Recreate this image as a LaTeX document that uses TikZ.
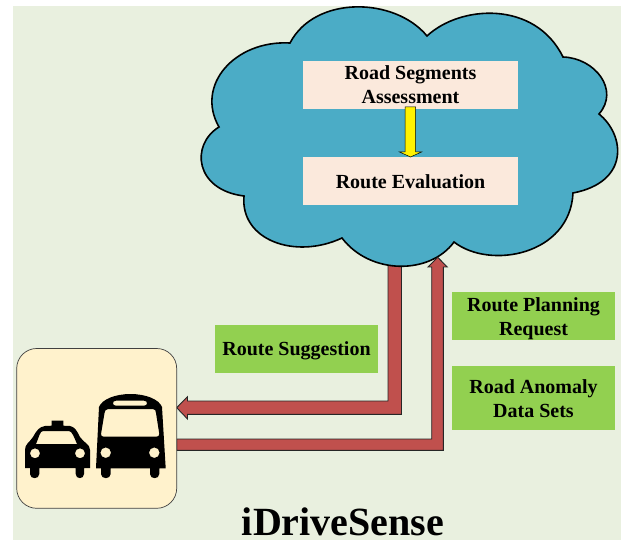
\documentclass[tikz,border=0pt]{standalone}
\usepackage{fontspec}
\setmainfont{Liberation Serif}
\definecolor{bgc}{HTML}{E9F0DF}
\definecolor{cloudc}{HTML}{4BACC6}
\definecolor{boxc}{HTML}{FBE9DC}
\definecolor{lblc}{HTML}{92D050}
\definecolor{redc}{HTML}{C0504D}
\definecolor{vehc}{HTML}{FFF2CC}
\newcommand\lowr[2]{\raisebox{-#1}[\height][\depth]{#2}}
\tikzset{
  lbl/.style={fill=lblc,inner sep=0pt,align=center,font=\fontsize{20}{24}\selectfont\bfseries,text=black},
  cbox/.style={fill=boxc,inner sep=0pt,align=center,font=\fontsize{20}{24}\selectfont\bfseries,text=black},
  redarrow/.style={fill=redc,draw=black!85,line width=.9pt,line join=miter},
}
\begin{document}
\begin{tikzpicture}[x=1pt,y=-1pt]
\useasboundingbox (0,0) rectangle (627,540);
\fill[white] (0,0) rectangle (627,540);
\fill[bgc] (13,6) rectangle (621,540);
% outgoing arrow under the cloud
\draw[redarrow] (388,262) -- (388,401) -- (187.5,401) -- (187.5,396.7) -- (176.7,407.7) -- (187.5,419) -- (187.5,414.3) -- (401.5,414.3) -- (401.5,262) -- cycle;
% cloud
\draw[fill=cloudc,draw=black,line width=1.6pt,line join=miter]
 (219,127) .. controls (195,85) and (235,40) .. (290,43)
 .. controls (315,-5) and (395,-3) .. (427,36)
 .. controls (460,5) and (535,0) .. (563,57)
 .. controls (595,58) and (620,90) .. (599,114)
 .. controls (625,135) and (630,182) .. (573,193)
 .. controls (570,255) and (490,270) .. (454,242)
 .. controls (430,275) and (370,275) .. (342,238)
 .. controls (295,260) and (240,240) .. (244,196)
 .. controls (195,190) and (190,145) .. (219,127) -- cycle;
\node[cbox,minimum width=215pt,minimum height=48pt] (rsa) at (410.5,85) {Road Segments\\Assessment};
\node[cbox,minimum width=215pt,minimum height=48pt] (re) at (410.5,181) {\lowr{1pt}{Route Evaluation}};
\draw[fill=yellow,draw=black,line width=.5pt] (405,107) -- (405,152) -- (399.5,152) -- (410.5,157) -- (421.5,152) -- (415.7,152) -- (415.7,107) -- cycle;
% incoming arrow
\draw[redarrow] (176.7,439) -- (431.7,439) -- (431.7,267) -- (428,267) -- (437.7,257.3) -- (447.3,267) -- (443.3,267) -- (443.3,450.3) -- (176.7,450.3) -- cycle;
% labels
\node[lbl,minimum width=163pt,minimum height=48pt] (rs) at (296.5,349) {\lowr{2pt}{Route Suggestion}};
\node[lbl,minimum width=163pt,minimum height=48pt] (rp) at (533.5,316) {\lowr{3pt}{Route Planning}\\\lowr{3pt}{Request}};
\node[lbl,minimum width=163pt,minimum height=64pt] (ra) at (533.5,398) {\lowr{1pt}{Road Anomaly}\\\lowr{1pt}{Data Sets}};
% vehicles
\draw[fill=vehc,draw=black!75,line width=.7pt,rounded corners=20pt] (16.7,348.5) rectangle (176.7,508.3);
% car
\fill[black,even odd rule]
 (51.7,420.7) -- (63.3,420.7) -- (63.3,425.7) -- (70,426) .. controls (75,427) and (77,431) .. (80,437)
 .. controls (84,443) and (90,444) .. (90,450) -- (90,468) -- (84,468) -- (84,474) .. controls (84,479.5) and (75.7,479.5) .. (75.7,474) -- (75.7,468)
 -- (39.3,468) -- (39.3,474) .. controls (39.3,479.5) and (30,479.5) .. (30,474) -- (30,468) -- (25,468) -- (25,450)
 .. controls (25,444) and (29,443) .. (33,437) .. controls (37,430) and (39,427) .. (45,426) -- (51.7,425.7) -- cycle
 (43,431) -- (69,431) .. controls (72,431) and (74,437) .. (77,444) -- (36,444) .. controls (39,437) and (40,431) .. (43,431) -- cycle
 (35,453.3) circle (5) (80,453.3) circle (5);
% bus
\fill[black,even odd rule]
 (130.5,394) .. controls (145,394) and (159,399) .. (162,407) -- (165.7,468.3) -- (159.3,468.3) -- (159.3,474) .. controls (159.3,479.5) and (150,479.5) .. (150,474) -- (150,468.3)
 -- (110.7,468.3) -- (110.7,474) .. controls (110.7,479.5) and (101,479.5) .. (101,474) -- (101,468.3) -- (96,468.3) -- (99,407)
 .. controls (102,399) and (116,394) .. (130.5,394) -- cycle
 (116,400.7) -- (144,400.7) .. controls (148,400.7) and (148,405.7) .. (144,405.7) -- (116,405.7) .. controls (112,405.7) and (112,400.7) .. (116,400.7) -- cycle
 (108,409) -- (153,409) .. controls (155,409) and (156,411) .. (156,413) -- (159.3,434) .. controls (159.3,436) and (158,436.7) .. (156,436.7)
 -- (104,436.7) .. controls (102,436.7) and (101,436) .. (101,434) -- (104.5,413) .. controls (104.5,411) and (106,409) .. (108,409) -- cycle
 (105.7,452.7) circle (5.3) (154.3,452.7) circle (5.3);
\node[inner sep=0pt,anchor=base,font=\fontsize{40}{44}\selectfont\bfseries,text=black] (title) at (343,535.5) {iDriveSense};
\end{tikzpicture}
\end{document}
